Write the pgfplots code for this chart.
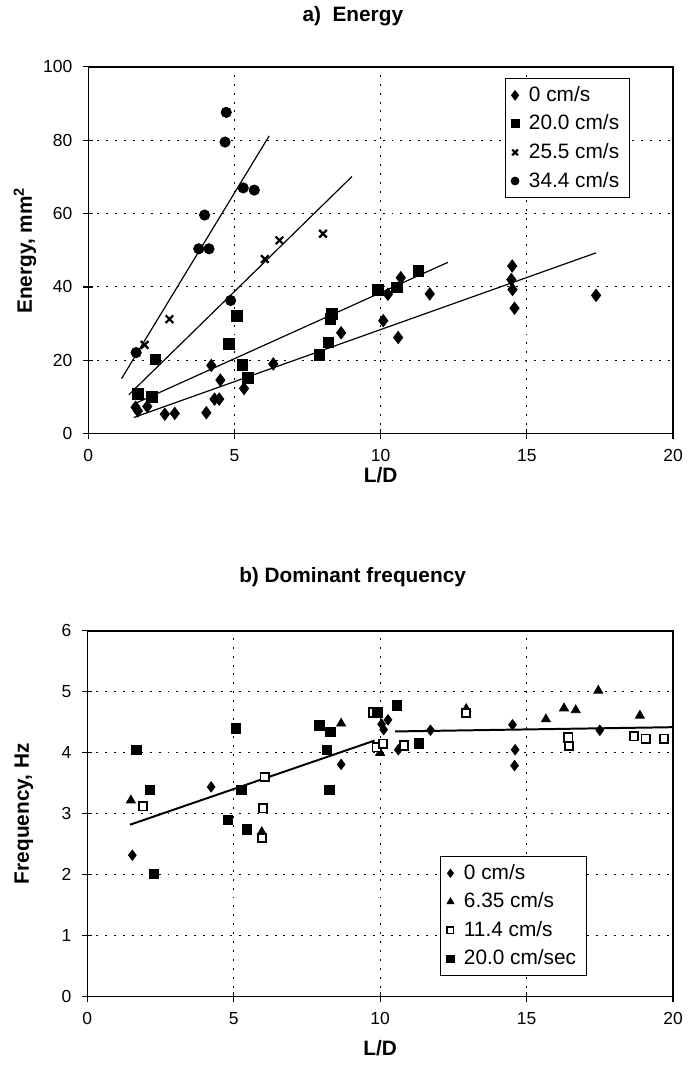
\documentclass[border=0pt]{standalone}
\usepackage{fontspec}
\setmainfont{Liberation Sans}
\usepackage{pgfplots}
\pgfplotsset{compat=1.18}

\pgfplotsset{
  panel/.style={
    scale only axis,
    anchor=south west,
    xmin=0, xmax=20, xtick={0,5,10,15,20},
    tick pos=left, tick align=center, major tick length=5pt,
    grid=major,
    major grid style={black, line width=0.5pt, dash pattern=on 1pt off 3.5pt},
    axis line style={black, line width=0.7pt},
    tick style={black, line width=0.6pt},
    /pgf/number format/assume math mode=true,
    tick label style={font=\fontsize{8.8}{10}\selectfont},
    xticklabel style={yshift=-2pt},
    yticklabel style={xshift=-2pt},
    label style={font=\bfseries\fontsize{10.5}{12}\selectfont},
    title style={font=\bfseries\fontsize{10.5}{12}\selectfont, anchor=center},
    xlabel={L/D},
    ylabel style={at={(-0.108,0.5)}, anchor=center},
    legend cell align=left,
    legend style={font=\fontsize{10.5}{12}\selectfont, draw=black, line width=0.5pt,
      anchor=north west, row sep=1.3pt, inner xsep=3pt, inner ysep=2pt,
      /tikz/every odd column/.append style={column sep=3pt}},
    legend image post style={/tikz/every mark/.append style={scale=0.75}},
  },
  fit/.style={black, line width=0.6pt, no marks, forget plot},
  dia/.style={only marks, mark=diamond*, mark size=3.1pt, black},
  sqr/.style={only marks, mark=square*, mark size=2.7pt, black},
}

\begin{document}
\begin{tikzpicture}
\path (0pt,0pt) rectangle (345.5pt,532.5pt);

% a) Energy
\begin{axis}[panel,
  at={(44.5pt,318.5pt)}, width=295pt, height=185pt,
  ymin=0, ymax=100, ytick={0,20,40,60,80,100},
  title={a)\ \ Energy},
  title style={at={(0.4525,1)}, yshift=19.5pt},
  xlabel style={at={(0.5,0)}, anchor=center, yshift=-21pt},
  ylabel={Energy, mm\textsuperscript{2}},
  legend style={at={(0.712,0.97)}},
]
\addplot[fit] coordinates {(1.56,4.4) (17.37,49.3)};
\addplot[fit] coordinates {(1.6,8.2) (12.3,46.7)};
\addplot[fit] coordinates {(1.39,10.6) (9.02,70.1)};
\addplot[fit] coordinates {(1.14,15) (6.19,81.2)};

\addplot[dia] coordinates {
  (1.62,7.2) (1.70,6.2) (2.02,7.4) (2.62,5.3) (2.96,5.5) (4.04,5.7)
  (4.32,9.4) (4.48,9.4) (4.52,14.6) (4.21,18.6) (5.33,12.3) (6.33,19.0)
  (8.65,27.5) (10.09,30.8) (10.25,38.0) (10.69,42.5) (10.6,26.2)
  (11.68,38.1) (14.5,45.7) (14.47,42.0) (14.51,39.3) (14.58,34.2) (17.37,37.7)
};
\addlegendentry{0 cm/s}
\addplot[sqr] coordinates {
  (1.69,10.8) (2.17,10.0) (2.30,20.2) (4.82,24.5) (5.09,32.1) (5.27,18.8)
  (5.47,15.1) (7.91,21.4) (8.21,24.9) (8.28,31.3) (8.33,32.7) (9.9,39.1)
  (10.55,39.9) (11.29,44.3)
};
\addlegendentry{20.0 cm/s}
\addplot[only marks, mark=x, mark size=2.7pt, black, line width=1.1pt] coordinates {
  (1.93,24.2) (2.78,31.2) (6.04,47.6) (6.54,52.7) (8.03,54.5)
};
\addlegendentry{25.5 cm/s}
\addplot[only marks, mark=*, mark size=2.6pt, black] coordinates {
  (1.64,22.1) (3.78,50.4) (3.98,59.6) (4.13,50.4) (4.68,79.5) (4.72,87.6)
  (4.87,36.3) (5.3,67.0) (5.68,66.4)
};
\addlegendentry{34.4 cm/s}
\end{axis}

% b) Dominant frequency
\begin{axis}[panel,
  at={(44pt,34.5pt)}, width=295.5pt, height=184.5pt,
  ymin=0, ymax=6, ytick={0,1,2,3,4,5,6},
  title={b) Dominant frequency},
  title style={at={(0.453,1)}, yshift=21pt},
  xlabel style={at={(0.5,0)}, anchor=center, yshift=-26pt},
  ylabel={Frequency, Hz},
  legend style={at={(0.603,0.385)}},
]
\addplot[fit, line width=1pt] coordinates {(1.46,2.82) (9.81,4.2)};
\addplot[fit, line width=1pt] coordinates {(10.51,4.35) (20.0,4.42)};

\addplot[dia, mark size=2.6pt] coordinates {
  (1.54,2.32) (4.23,3.44) (8.67,3.81) (10.05,4.47) (10.27,4.54) (10.12,4.38)
  (10.62,4.05) (11.72,4.37) (14.52,4.46) (14.61,4.05) (14.59,3.79) (17.5,4.37)
};
\addlegendentry{0 cm/s}
\addplot[only marks, mark=triangle*, mark size=2.6pt, black] coordinates {
  (1.49,3.22) (5.96,2.70) (8.67,4.48) (10.0,4.0) (12.94,4.72) (15.66,4.55)
  (16.28,4.73) (16.68,4.7) (17.45,5.02) (18.87,4.61)
};
\addlegendentry{6.35 cm/s}
\addplot[only marks, mark=square*, mark size=2.1pt, black, fill=white, line width=0.9pt] coordinates {
  (1.91,3.12) (5.96,2.60) (6.0,3.09) (6.06,3.6) (9.77,4.66) (9.88,4.09)
  (10.1,4.15) (10.82,4.12) (12.94,4.65) (16.43,4.25) (16.45,4.11)
  (18.67,4.27) (19.07,4.23) (19.69,4.23)
};
\addlegendentry{11.4 cm/s}
\addplot[sqr, mark size=2.4pt] coordinates {
  (1.68,4.05) (2.14,3.39) (2.28,2.01) (4.81,2.90) (5.07,4.40) (5.27,3.39)
  (5.45,2.74) (7.93,4.45) (8.19,4.05) (8.31,4.34) (8.26,3.39) (9.9,4.66)
  (10.58,4.78) (11.32,4.15)
};
\addlegendentry{20.0 cm/sec}
\end{axis}
\end{tikzpicture}
\end{document}
